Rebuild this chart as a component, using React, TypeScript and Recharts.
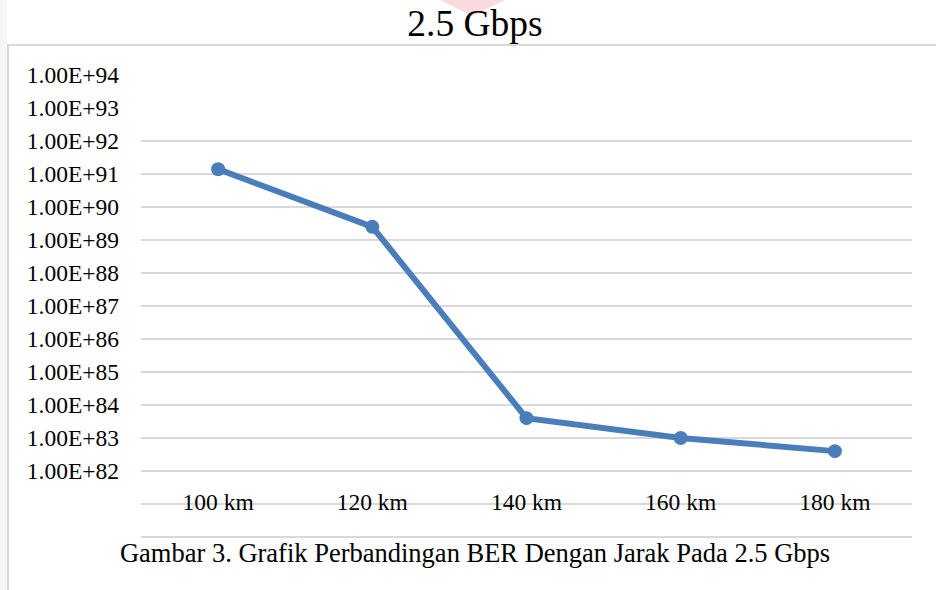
import React from "react";
import {
  LineChart,
  Line,
  XAxis,
  YAxis,
  CartesianGrid,
} from "recharts";

const distances = ["100 km", "120 km", "140 km", "160 km", "180 km"];
const berValues = [1.4e91, 2.5e89, 4.0e83, 1.0e83, 4.0e82];
const yTicks = [1e80, 1e81, 1e82, 1e83, 1e84, 1e85, 1e86, 1e87, 1e88, 1e89, 1e90, 1e91, 1e92, 1e93, 1e94];
const gridValues = [1e80, 1e81, 1e82, 1e83, 1e84, 1e85, 1e86, 1e87, 1e88, 1e89, 1e90, 1e91, 1e92];
const minLabelled = 1e82;

const title = "2.5 Gbps";
const caption = "Gambar 3. Grafik Perbandingan BER Dengan Jarak Pada 2.5 Gbps";

const data = distances.map((d, i) => ({ distance: d, ber: berValues[i] }));

const serif = "Liberation Serif";

const formatY = (v: number) =>
  v < minLabelled * 0.99 ? "" : v.toExponential(2).toUpperCase();

const XTick = (props: any) => {
  const { x, payload } = props;
  return (
    <text x={x} y={502} dy="0.355em" textAnchor="middle" fill="#000" fontSize={23.5} fontFamily={serif}>
      {payload.value}
    </text>
  );
};

export default function App() {
  return (
    <div style={{ position: "absolute", left: 0, top: 0, width: 936, height: 590, background: "#fff", overflow: "hidden" }}>
      <div style={{ position: "absolute", left: 0, top: 0, width: 7, height: 590, background: "#f6f6f6" }} />
      <div
        style={{
          position: "absolute",
          left: 7,
          top: 44,
          width: 940,
          height: 560,
          borderTop: "2px solid #d9d9d9",
          borderLeft: "2px solid #d9d9d9",
        }}
      />
      <div style={{ position: "absolute", left: 0, top: 0 }}>
        <LineChart width={936} height={590} data={data} margin={{ top: 75, right: 24, bottom: 23, left: 0 }}>
          <CartesianGrid vertical={false} horizontalValues={gridValues} stroke="#d9d9d9" strokeWidth={2} />
          <XAxis
            dataKey="distance"
            type="category"
            scale="band"
            axisLine={false}
            tickLine={false}
            height={30}
            tick={<XTick />}
            interval={0}
          />
          <YAxis
            scale="log"
            domain={[1e80, 1e94]}
            ticks={yTicks}
            interval={0}
            allowDataOverflow
            width={141}
            axisLine={false}
            tickLine={false}
            tickSize={0}
            tickMargin={22}
            tickFormatter={formatY}
            tick={{ fill: "#000", fontSize: 23.5, fontFamily: serif }}
          />
          <Line
            type="linear"
            dataKey="ber"
            stroke="#4a7ebb"
            strokeWidth={6}
            dot={{ r: 7, fill: "#4a7ebb", stroke: "#4a7ebb", strokeWidth: 0 }}
            isAnimationActive={false}
          />
        </LineChart>
      </div>
      <svg width={936} height={590} style={{ position: "absolute", left: 0, top: 0, pointerEvents: "none" }}>
        <polygon points="440,0 505,0 472,16" fill="#f3b7c0" opacity={0.5} />
        <text x={475} y={36} textAnchor="middle" fontFamily={serif} fontSize={37.5} fill="#000">
          {title}
        </text>
        <text x={475} y={562} textAnchor="middle" fontFamily={serif} fontSize={26.5} fill="#000">
          {caption}
        </text>
      </svg>
    </div>
  );
}
